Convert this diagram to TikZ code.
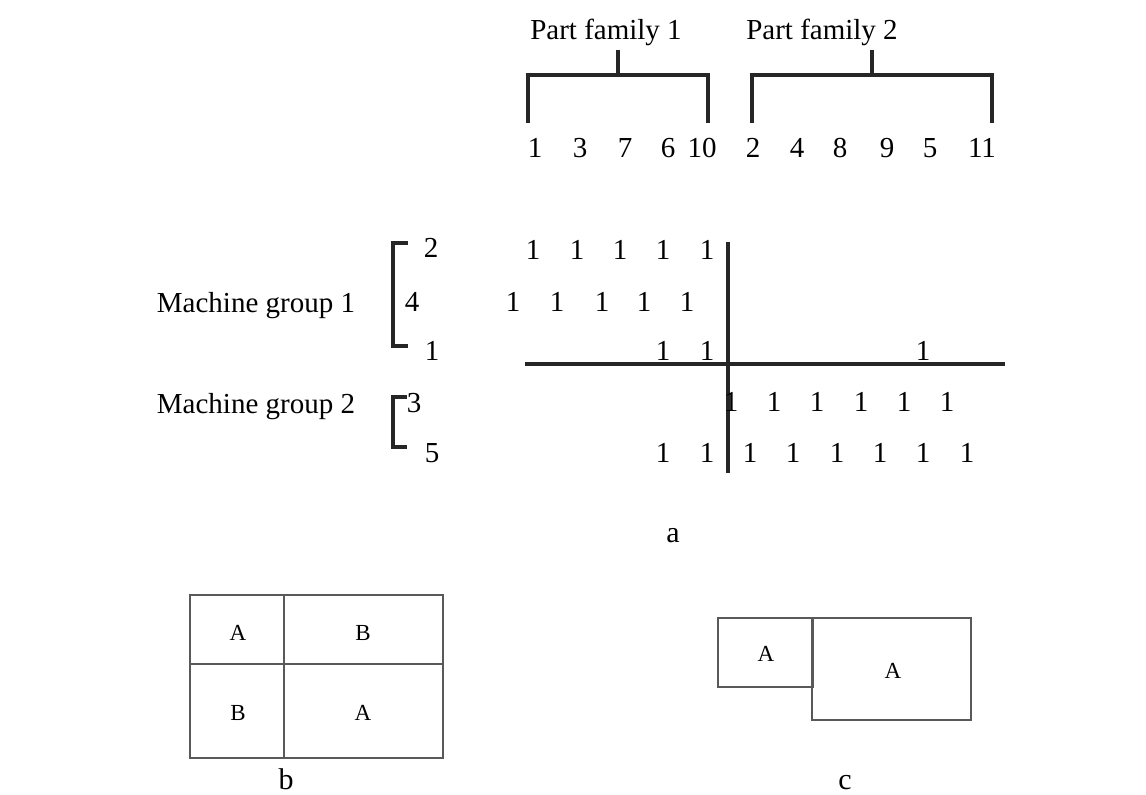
\documentclass[tikz,border=0pt]{standalone}
\usepackage{fontspec}
\newfontfamily\tnr{Liberation Serif}
\begin{document}
\begin{tikzpicture}[x=1pt,y=-1pt,
  lbl/.style={font=\tnr\fontsize{29}{34}\selectfont, inner sep=0pt, anchor=base},
  num/.style={font=\tnr\fontsize{29}{34}\selectfont, inner sep=0pt, anchor=center},
  one/.style={font=\tnr\fontsize{29}{34}\selectfont, inner sep=0pt, anchor=center},
  cell/.style={font=\tnr\fontsize{23}{27}\selectfont, inner sep=0pt},
  figlabel/.style={font=\tnr\fontsize{30}{35}\selectfont, inner sep=0pt, anchor=base},
  br/.style={line width=3.2pt, black!85},
  grid/.style={line width=3.4pt, black!85},
  box/.style={line width=1.3pt, black!65}]
\useasboundingbox (0,0) rectangle (1146,795);

% ---- part families ----
\node[lbl] (pf1) at (606,39) {Part family 1};
\node[lbl] (pf2) at (822,39) {Part family 2};
\draw[br] (528,123) -- (528,75) -- (708,75) -- (708,123);
\draw[br] (618,75) -- (618,50);
\draw[br] (752,123) -- (752,75) -- (992,75) -- (992,123);
\draw[br] (872,75) -- (872,50);

\foreach \t/\x in {1/535,3/580,7/625,6/668,10/702,2/753,4/797,8/840,9/887,5/930,11/982}
  \node[lbl] (p\t) at (\x,157) {\t};

% ---- machine groups ----
\node[lbl] (mg1) at (256,312) {Machine group 1};
\node[lbl] (mg2) at (256,413) {Machine group 2};
\draw[br] (408,243) -- (393,243) -- (393,346) -- (408,346);
\draw[br] (407,397) -- (393,397) -- (393,447) -- (407,447);
\node[num] (m2) at (431,248) {2};
\node[num] (m4) at (412,302) {4};
\node[num] (m1) at (432,351) {1};
\node[num] (m3) at (414,403) {3};
\node[num] (m5) at (432,453) {5};

% ---- matrix ----
\draw[grid] (525,364) -- (1005,364);
\draw[grid] (728,242) -- (728,473);
\foreach \x [count=\i] in {533,577,620,663,707} \node[one] (ra\i) at (\x,250) {1};
\foreach \x [count=\i] in {513,557,602,644,687} \node[one] (rb\i) at (\x,302) {1};
\foreach \x [count=\i] in {663,707,923} \node[one] (rc\i) at (\x,351) {1};
\foreach \x [count=\i] in {731,774,817,861,904,947} \node[one] (rd\i) at (\x,402) {1};
\foreach \x [count=\i] in {663,707,750,793,837,880,923,967} \node[one] (re\i) at (\x,453) {1};

\node[figlabel] (la) at (673,542) {a};

% ---- b ----
\draw[box] (190,595) rectangle (443,758);
\draw[box] (284,595) -- (284,758);
\draw[box] (190,664) -- (443,664);
\node[cell] (b11) at (238,633) {A};
\node[cell] (b12) at (363,633) {B};
\node[cell] (b21) at (238,713) {B};
\node[cell] (b22) at (363,713) {A};
\node[figlabel] (lb) at (286,789) {b};

% ---- c ----
\draw[box] (718,618) rectangle (813,687);
\draw[box] (812,618) rectangle (971,720);
\node[cell] (c1) at (766,654) {A};
\node[cell] (c2) at (893,671) {A};
\node[figlabel] (lc) at (845,789) {c};
\end{tikzpicture}
\end{document}
